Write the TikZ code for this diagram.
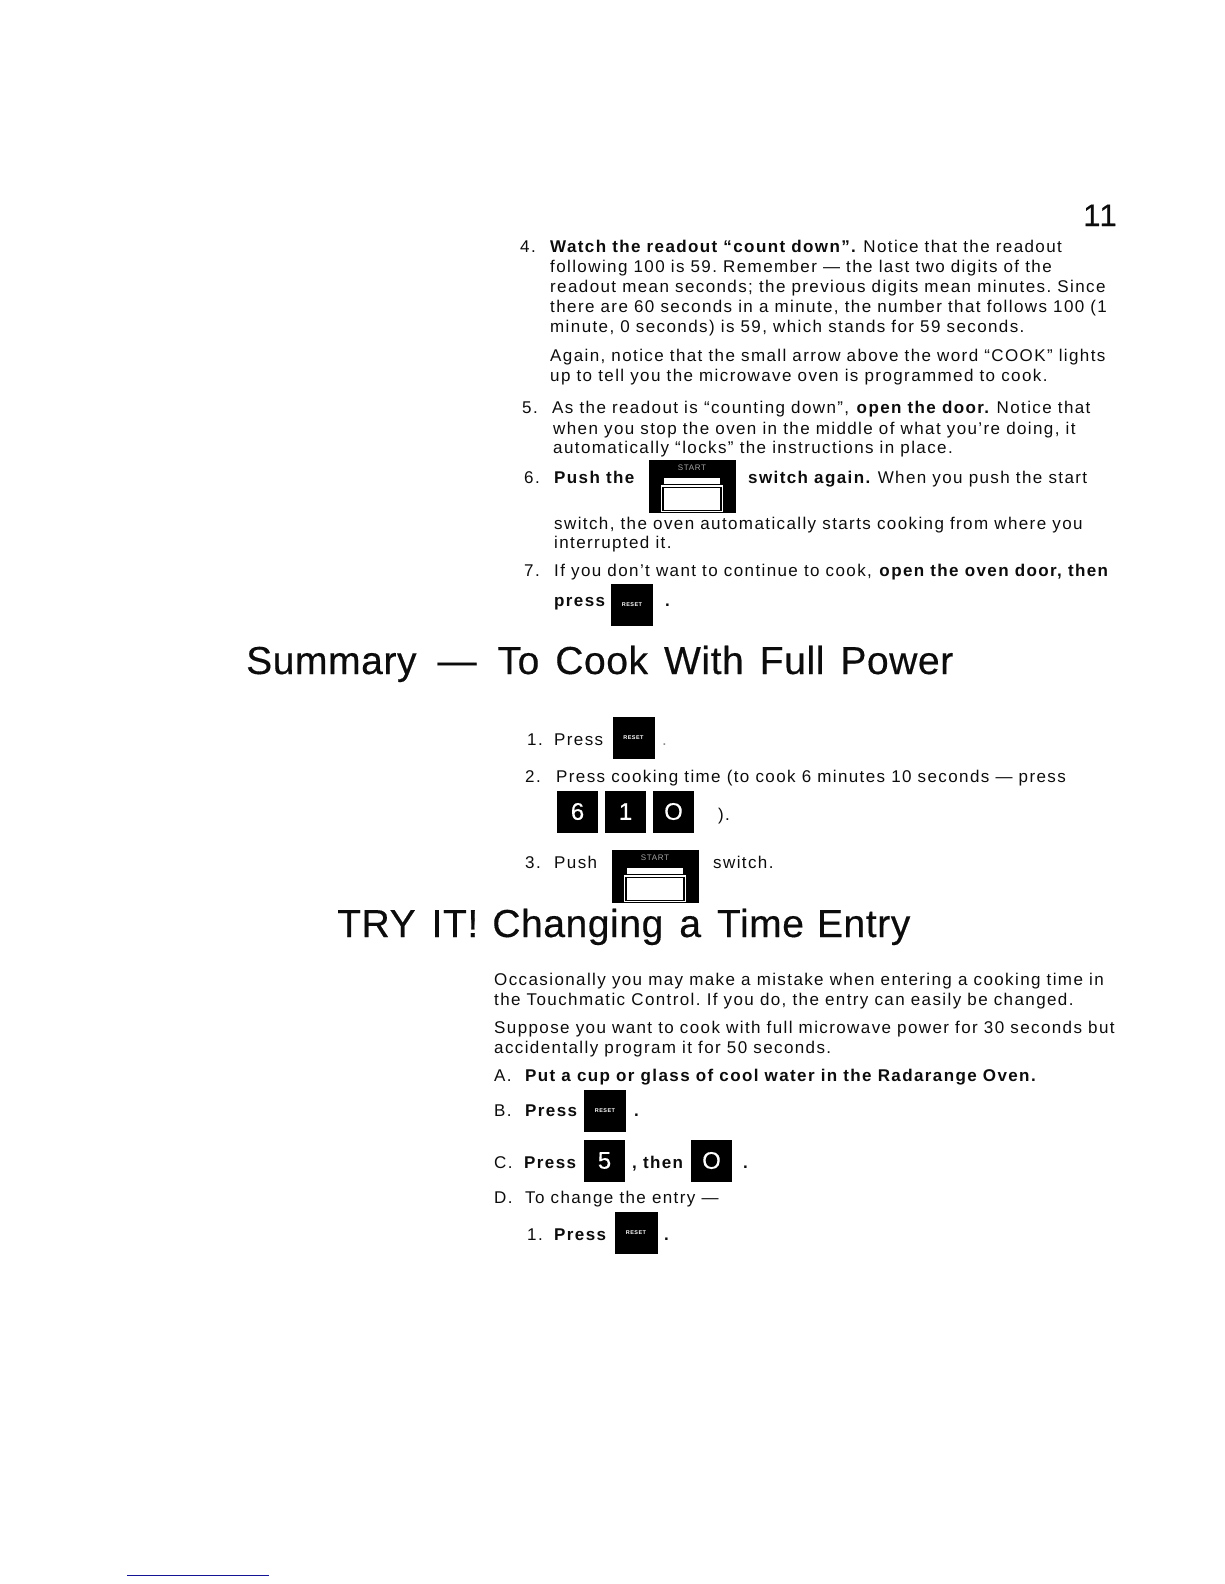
\documentclass[tikz,border=0pt]{standalone}
\usepackage{fontspec}
\setmainfont[LetterSpace=8.2]{Liberation Sans}
\newfontfamily\headfont[LetterSpace=1.5,WordSpace=1.4,FakeBold=0.4]{Liberation Sans}
\definecolor{inkblack}{RGB}{12,12,12}
\definecolor{rulenavy}{RGB}{20,20,150}
\tikzset{
  line/.style={anchor=base west,inner sep=0pt,font=\fontsize{17}{20}\selectfont,text=inkblack},
  boldline/.style={line,font=\fontsize{17}{20}\selectfont\bfseries},
  heading/.style={anchor=base west,inner sep=0pt,font=\fontsize{39}{44}\selectfont\headfont,text=inkblack},
  keybox/.style={fill=black,inner sep=0pt,minimum width=#1,minimum height=42,text=white},
  resetkey/.style={keybox=42,font=\fontsize{5.5}{6}\selectfont\bfseries},
  digitkey/.style={keybox=41,font=\fontsize{24}{28}\selectfont\headfont},
  startbody/.style={fill=black,inner sep=0pt,minimum width=87,minimum height=53},
  startword/.style={inner sep=0pt,text=black!35,font=\fontsize{8}{9}\selectfont},
  startbar/.style={fill=white,inner sep=0pt,minimum width=56,minimum height=5.5},
  startframe/.style={fill=white,draw=black,line width=1.4pt,outer sep=0pt,inner sep=0pt,minimum width=58,minimum height=23},
  startedge/.style={fill=white,inner sep=0pt,minimum width=62,minimum height=27}
}
\newcommand{\startpanel}[2]{
  \node[startbody] (#1) at (#2) {};
  \node[startword] (#1word) at ([yshift=-8]#1.north) {START};
  \node[startbar] (#1bar) at ([yshift=-21]#1.north) {};
  \node[startedge] (#1edge) at ([yshift=14.5]#1.south) {};
  \node[startframe] (#1frame) at (#1edge) {};
}
\begin{document}
\frenchspacing
\begin{tikzpicture}[x=1pt,y=-1pt]
  \useasboundingbox (0,0) rectangle (1224,1584);
  \node[anchor=base west,inner sep=0pt,font=\fontsize{31}{34}\selectfont\headfont,text=inkblack] (pageno) at (1083,226) {1\hspace{-1pt}1};

  \node[line] (num4) at (520,252) {4.};
  \node[line] (watch) at (550,252) {\textbf{Watch the readout “count down”.} Notice that the readout};
  \node[line] (follow) at (550,272) {following 100 is 59. Remember — the last two digits of the};
  \node[line] (mean) at (550,292) {readout mean seconds; the previous digits mean minutes. Since};
  \node[line] (there) at (550,312) {there are 60 seconds in a minute, the number that follows 100 (1};
  \node[line] (minute) at (550,332) {minute, 0 seconds) is 59, which stands for 59 seconds.};
  \node[line] (again) at (550,361) {Again, notice that the small arrow above the word “COOK” lights};
  \node[line] (upto) at (550,381) {up to tell you the microwave oven is programmed to cook.};

  \node[line] (num5) at (522,413.5) {5.};
  \node[line] (asthe) at (552,413.5) {As the readout is “counting down”, \textbf{open the door.} Notice that};
  \node[line] (when) at (553,434) {when you stop the oven in the middle of what you're doing, it};
  \node[line] (auto) at (553,453) {automatically “locks” the instructions in place.};

  \node[line] (num6) at (524,483) {6.};
  \node[boldline] (pushthe) at (554,483) {Push the};
  \startpanel{startA}{692,486.5}
  \node[line] (switchagain) at (748,483) {\textbf{switch again.} When you push the start};
  \node[line] (switchthe) at (554,529) {switch, the oven automatically starts cooking from where you};
  \node[line] (interrupted) at (554,548) {interrupted it.};

  \node[line] (num7) at (524,576) {7.};
  \node[line] (ifyou) at (554,576) {If you don't want to continue to cook, \textbf{open the oven door, then}};
  \node[boldline] (press) at (554,606) {press};
  \node[resetkey] (resetA) at (632,604.5) {RESET};
  \node[boldline] (dotA) at (665,606) {.};

  \node[heading] (summary) at (246,674) {Summary\hspace{5pt} — \hspace{5pt}To Cook With Full Power};

  \node[line] (sum1) at (527,745) {1.};
  \node[line] (sumpress) at (554,745) {Press};
  \node[resetkey] (resetB) at (633.5,738) {RESET};
  \node[line,text=black!45] (dotB) at (662,745) {.};
  \node[line] (sum2) at (525,782) {2.};
  \node[line] (sumtime) at (556,782) {Press cooking time (to cook 6 minutes 10 seconds — press};
  \node[digitkey] (keysix) at (577.5,811.5) {6};
  \node[digitkey] (keyone) at (625.5,811.5) {1};
  \node[digitkey] (keyzero) at (673.5,811.5) {O};
  \node[line] (close) at (718,820) {).};
  \node[line] (sum3) at (525,868) {3.};
  \node[line] (sumpush) at (554,868) {Push};
  \startpanel{startB}{655,876.5}
  \node[line] (sumswitch) at (713,868) {switch.};

  \node[heading] (tryit) at (337,937) {TRY IT!\hspace{-2pt} Changing a Time\hspace{-3pt} Entry};

  \node[line] (occa) at (494,985) {Occasionally you may make a mistake when entering a cooking time in};
  \node[line] (touch) at (494,1005) {the Touchmatic Control. If you do, the entry can easily be changed.};
  \node[line] (suppose) at (494,1033) {Suppose you want to cook with full microwave power for 30 seconds but};
  \node[line] (accid) at (494,1053) {accidentally program it for 50 seconds.};

  \node[line] (stepA) at (494,1081) {A.};
  \node[boldline] (putcup) at (525,1081) {Put a cup or glass of cool water in the Radarange Oven.};
  \node[line] (stepB) at (494,1116) {B.};
  \node[boldline] (pressB) at (525,1116) {Press};
  \node[resetkey] (resetC) at (605,1111) {RESET};
  \node[boldline] (dotC) at (634,1116) {.};
  \node[line] (stepC) at (494,1168) {C.};
  \node[boldline] (pressC) at (524,1168) {Press};
  \node[digitkey] (keyfive) at (604.5,1160.5) {5};
  \node[boldline] (then) at (632,1168) {, then};
  \node[digitkey] (keynil) at (711.5,1160.5) {O};
  \node[boldline] (dotD) at (743,1168) {.};
  \node[line] (stepD) at (494,1203) {D.};
  \node[line] (tochange) at (525,1203) {To change the entry —};
  \node[line] (subone) at (527,1240) {1.};
  \node[boldline] (pressD) at (554,1240) {Press};
  \node[resetkey,minimum width=43] (resetD) at (636,1233) {RESET};
  \node[boldline] (dotE) at (664,1240) {.};

  \coordinate (ruleL) at (127,1575);
  \coordinate (ruleR) at (269,1575);
  \draw[rulenavy,line width=1pt] (ruleL) -- (ruleR);
\end{tikzpicture}
\end{document}
